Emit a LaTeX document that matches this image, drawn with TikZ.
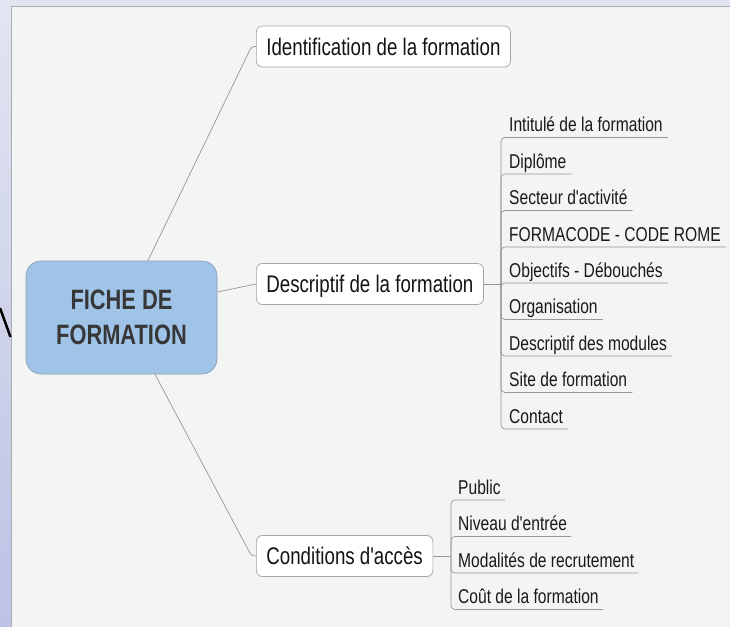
\documentclass[tikz,border=0pt]{standalone}
\usepackage{fontspec}
\setmainfont{Liberation Sans}[FakeStretch=0.78, Ligatures=TeXOff]
\definecolor{bgtop}{RGB}{226,229,241}
\definecolor{bgbot}{RGB}{188,195,228}
\definecolor{panel}{RGB}{243,244,244}
\definecolor{panelline}{RGB}{170,172,176}
\definecolor{cfill}{RGB}{159,196,232}
\definecolor{cdraw}{RGB}{140,160,185}
\definecolor{conn}{RGB}{150,150,150}
\definecolor{tdraw}{RGB}{165,165,165}
\begin{document}
\begin{tikzpicture}[x=1pt,y=-1pt,
  central/.style={draw=cdraw, fill=cfill, rounded corners=15pt, line width=0.7pt,
    minimum width=191pt, minimum height=113pt, align=center,
    font=\fontsize{28}{35}\selectfont\bfseries, text={rgb,255:red,55;green,55;blue,55}},
  topic/.style={draw=tdraw, fill=white, rounded corners=6pt, line width=0.7pt,
    minimum height=41pt, inner xsep=10pt, inner ysep=0pt, anchor=west,
    font=\fontsize{24}{28}\selectfont, text=black!92, text height=17.5pt, text depth=0pt},
  sub/.style={inner sep=0pt, anchor=base west, font=\fontsize{20}{24}\selectfont, text=black!90},
  link/.style={draw=conn, line width=0.7pt},
  branch/.style={draw=conn, line width=0.7pt, rounded corners=4pt}
]
\useasboundingbox (0,0) rectangle (730,626);
% background
\shade[top color=bgtop, bottom color=bgbot] (-1,-1) rectangle (731,627);
\fill[panel] (11,6) rectangle (732,628);
\draw[panelline, line width=0.9pt] (11,628) -- (11,6) -- (732,6);
\draw[black, line width=2.5pt] (0,308) -- (10.5,337);

% central node
\node[central] (c) at (121.5,317.5) {FICHE DE\\FORMATION};

% main topics
\node[topic] (ident) at (256,46.5) {Identification de la formation};
\node[topic] (desc) at (256,284) {Descriptif de la formation};
\node[topic] (cond) at (256,556) {Conditions d'accès};

\draw[link, rounded corners=3pt] ([xshift=26.5pt]c.north) -- (251.5,46.5) -- (ident.west);
\draw[link] ([yshift=25.5pt]c.east) -- (desc.west);
\draw[link, rounded corners=3pt] ([xshift=33.5pt]c.south) -- (251.5,556) -- (cond.west);

% Descriptif children
\coordinate (dj) at (501,284);
\draw[link] (desc.east) -- (dj);
\node[sub] (d1) at (509,131.5) {Intitulé de la formation};
\node[sub] (d2) at (509,168) {Diplôme};
\node[sub] (d3) at (509,204.5) {Secteur d'activité};
\node[sub] (d4) at (509,241) {FORMACODE - CODE ROME};
\node[sub] (d5) at (509,277) {Objectifs - Débouchés};
\node[sub] (d6) at (509,313.5) {Organisation};
\node[sub] (d7) at (509,350) {Descriptif des modules};
\node[sub] (d8) at (509,386.5) {Site de formation};
\node[sub] (d9) at (509,423) {Contact};
\foreach \n in {d1,d2,d3,d4,d5,d6,d7,d8,d9}
  \draw[branch] (dj) |- ([xshift=5pt,yshift=-6pt]\n.base east);

% Conditions children
\coordinate (cj) at (451,556);
\draw[link] (cond.east) -- (cj);
\node[sub] (p1) at (458,494) {Public};
\node[sub] (p2) at (458,530.5) {Niveau d'entrée};
\node[sub] (p3) at (458,567) {Modalités de recrutement};
\node[sub] (p4) at (458,603.5) {Coût de la formation};
\foreach \n in {p1,p2,p3,p4}
  \draw[branch] (cj) |- ([xshift=4pt,yshift=-6pt]\n.base east);
\end{tikzpicture}
\end{document}
